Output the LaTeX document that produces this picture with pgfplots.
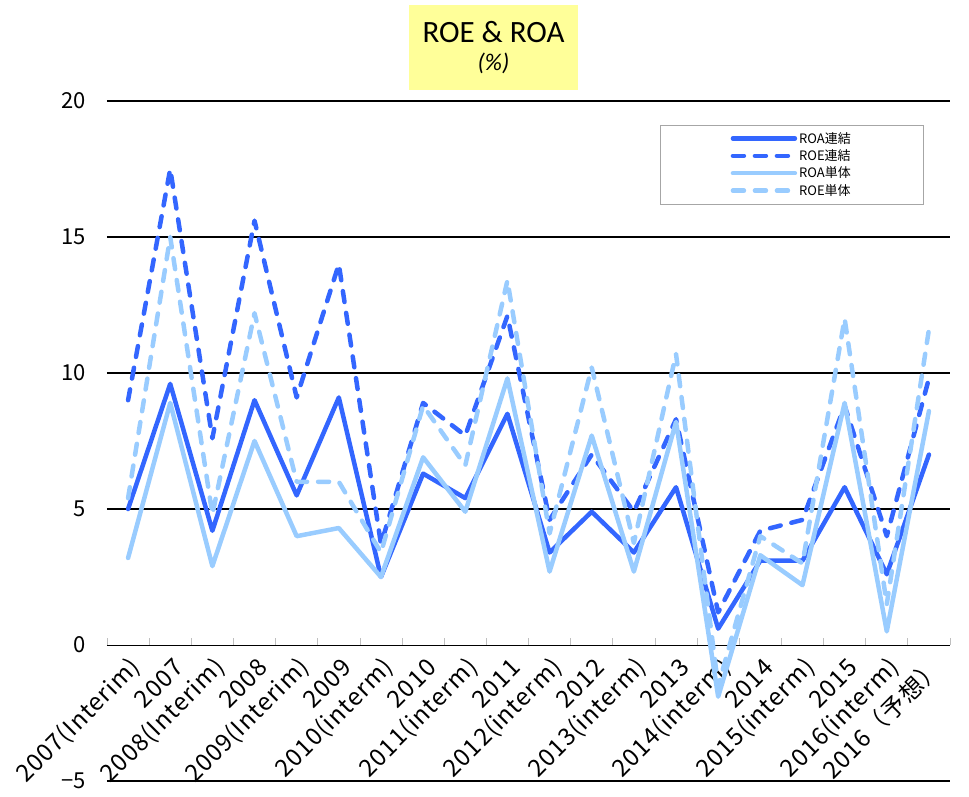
\documentclass[border=0pt]{standalone}
\usepackage{pgfplots}
\pgfplotsset{compat=1.18}
\usepackage{fontspec}
\setmainfont{Noto Sans CJK JP}
\newfontfamily\carlito{Carlito}
\newfontfamily\lblfont[LetterSpace=4.0]{Noto Sans CJK JP}
\definecolor{dk}{RGB}{51,102,255}
\definecolor{lt}{RGB}{153,204,255}
\definecolor{ttl}{RGB}{255,255,153}
\begin{document}
\begin{tikzpicture}
\begin{axis}[
 scale only axis, width=843pt, height=680pt,
 xmin=-0.5, xmax=19.5, ymin=-5, ymax=20,
 axis x line*=middle, axis y line*=left,
 y axis line style={draw=none},
 x axis line style={black, line width=0.8pt, -},
 ytick={-5,5,10,15,20}, yticklabels={−5,5,10,15,20},
 extra y ticks={0}, extra y tick labels={0},
 extra y tick style={grid=none},
 ymajorgrids, grid style={black, line width=1.6pt},
 major tick length=0pt,
 xtick={0,...,19},
 xticklabels={2007(Interim),2007,2008(Interim),2008,2009(Interim),2009,2010(interm),2010,2011(interm),2011,2012(interm),2012,2013(interm),2013,2014(interm),2014,2015(interm),2015,2016(interm),2016（予想）},
 minor xtick={-0.5,0.5,...,19.5},
 minor tick length=7pt,
 minor x tick style={gray!50, line width=0.8pt},
 tick align=inside,
 yticklabel style={font=\fontsize{22}{22}\selectfont, xshift=-18pt},
 xticklabel style={font=\lblfont\fontsize{24}{24}\selectfont, rotate=45, anchor=east, inner sep=0pt, yshift=-19pt, xshift=-7pt},
 clip=false,
 legend style={at={(rel axis cs:0.968,0.9647)}, anchor=north east, draw=gray!70, font=\fontsize{13}{13}\selectfont, inner xsep=70pt, inner ysep=5pt, row sep=1pt},
 legend cell align=left,
 legend image code/.code={\draw[#1] (0pt,0pt) -- (62pt,0pt);},
 every axis plot/.append style={line width=4.5pt, line join=round},
]
\addplot[dk, line cap=round] coordinates {(0,5.0) (1,9.6) (2,4.2) (3,9.0) (4,5.5) (5,9.1) (6,2.5) (7,6.3) (8,5.4) (9,8.5) (10,3.4) (11,4.9) (12,3.4) (13,5.8) (14,0.6) (15,3.1) (16,3.1) (17,5.8) (18,2.6) (19,7.0)};
\addlegendentry{ROA連結}
\addplot[dk, dash pattern=on 11pt off 11pt, line cap=round] coordinates {(0,9.0) (1,17.5) (2,7.6) (3,15.6) (4,9.1) (5,14.0) (6,3.7) (7,8.9) (8,7.7) (9,12.1) (10,4.6) (11,7.0) (12,4.9) (13,8.3) (14,1.2) (15,4.2) (16,4.6) (17,8.8) (18,4.0) (19,9.8)};
\addlegendentry{ROE連結}
\addplot[lt, line cap=round] coordinates {(0,3.2) (1,8.9) (2,2.9) (3,7.5) (4,4.0) (5,4.3) (6,2.5) (7,6.9) (8,4.9) (9,9.8) (10,2.7) (11,7.7) (12,2.7) (13,8.2) (14,-1.9) (15,3.3) (16,2.2) (17,8.9) (18,0.5) (19,8.6)};
\addlegendentry{ROA単体}
\addplot[lt, dash pattern=on 11pt off 11pt, line cap=round] coordinates {(0,5.4) (1,15.0) (2,4.8) (3,12.2) (4,6.0) (5,6.0) (6,3.4) (7,8.8) (8,6.6) (9,13.4) (10,4.1) (11,10.2) (12,3.75) (13,10.7) (14,-1.5) (15,4.0) (16,3.0) (17,12.0) (18,1.5) (19,11.6)};
\addlegendentry{ROE単体}
\end{axis}
\node[fill=ttl, minimum width=169pt, minimum height=85pt, align=center, inner sep=0pt] at ([shift={(386.5pt,53.5pt)}]current axis.north west) {{\carlito\fontsize{31}{31}\selectfont ROE \& ROA}\\[10pt]{\carlito\itshape\fontsize{24}{24}\selectfont (\%)}};
\pgfresetboundingbox
\path[use as bounding box] ([shift={(-107pt,-16pt)}]current axis.south west) rectangle ([shift={(19pt,101pt)}]current axis.north east);
\end{tikzpicture}
\end{document}
